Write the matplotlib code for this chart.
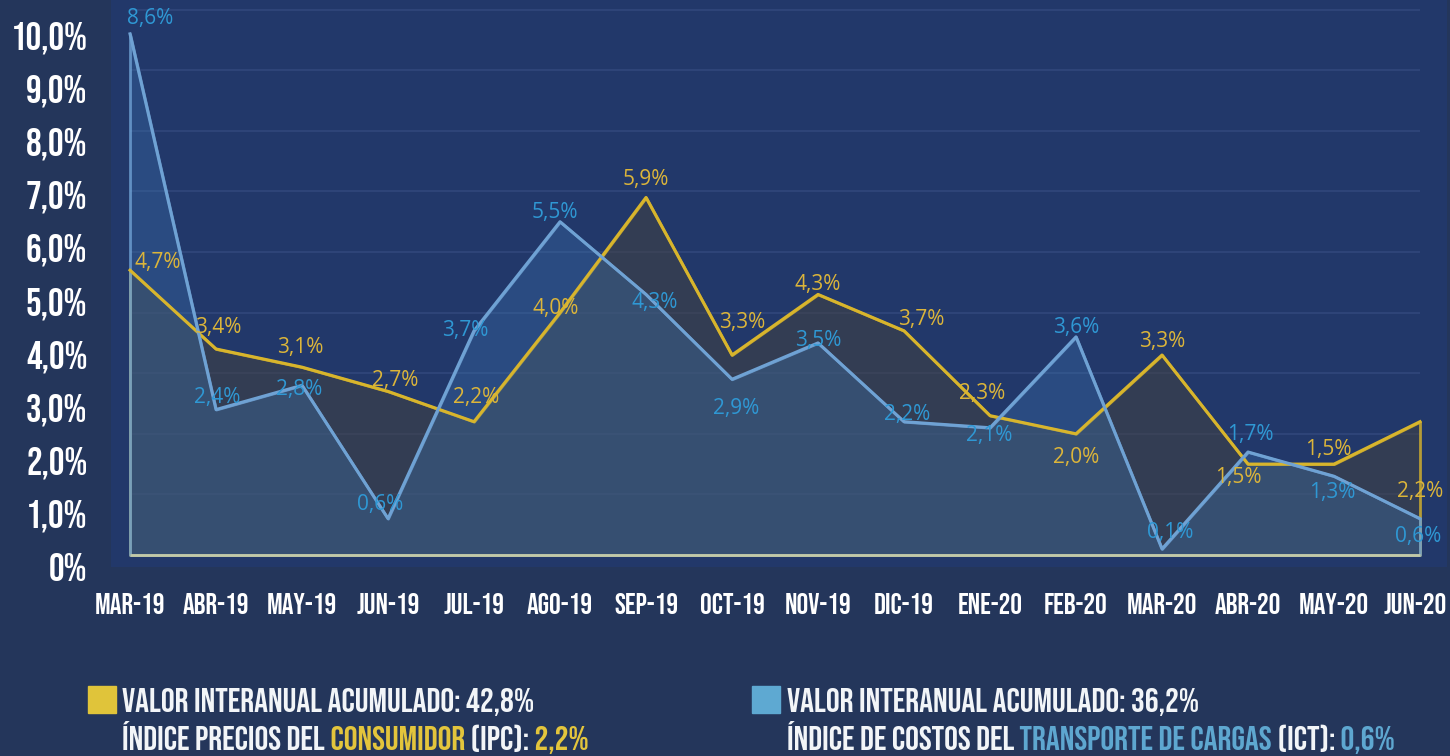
import numpy as np
import matplotlib.pyplot as plt
from matplotlib import font_manager
from matplotlib.patches import Rectangle
from matplotlib.transforms import ScaledTranslation

months = ["MAR-19", "ABR-19", "MAY-19", "JUN-19", "JUL-19", "AGO-19", "SEP-19", "OCT-19",
          "NOV-19", "DIC-19", "ENE-20", "FEB-20", "MAR-20", "ABR-20", "MAY-20", "JUN-20"]
ipc = [4.7, 3.4, 3.1, 2.7, 2.2, 4.0, 5.9, 3.3, 4.3, 3.7, 2.3, 2.0, 3.3, 1.5, 1.5, 2.2]
ict = [8.6, 2.4, 2.8, 0.6, 3.7, 5.5, 4.3, 2.9, 3.5, 2.2, 2.1, 3.6, 0.1, 1.7, 1.3, 0.6]
y_labels = ["0%", "1,0%", "2,0%", "3,0%", "4,0%", "5,0%", "6,0%", "7,0%", "8,0%", "9,0%", "10,0%"]

ipc_total = "42,8%"
ict_total = "36,2%"
ipc_last = "2,2%"
ict_last = "0,6%"

# label offsets in pixels (dx, dy), picked by eye
ipc_off = [(28, 8), (2, 21), (-2, 20), (7, 11), (2, 24), (-4, 4), (0, 18), (10, 33),
           (0, 10), (17, 11), (-8, 22), (0, -24), (0, 14), (-10, -13), (-6, 15), (0, -70)]
ict_off = [(20, 15), (1, 12), (-3, -4), (-8, 14), (-9, 0), (-5, 9), (9, -8), (4, -29),
           (0, 2), (3, 7), (-1, -8), (0, 9), (8, 16), (2, 17), (-2, -16), (-2, -18)]

# narrow font for the headline texts
installed = {f.name for f in font_manager.fontManager.ttflist}
narrow = "DejaVu Sans"
for cand in ["Bebas Neue", "Oswald", "Roboto Condensed", "Liberation Sans Narrow"]:
    if cand in installed:
        narrow = cand
        break
stretch = "condensed" if narrow == "DejaVu Sans" else "normal"
nfont = dict(family=narrow, fontweight="bold", fontstretch=stretch)

bg = "#24365b"
yellow = "#d8b52c"
blue = "#6fa2d4"
W, H = 1450, 756


def rect(l, t, r, b):
    return [l / W, 1 - b / H, (r - l) / W, (b - t) / H]


fig = plt.figure(figsize=(W / 100, H / 100), dpi=100, facecolor=bg)

# overlay in pixel coords for the legend
lax = fig.add_axes([0, 0, 1, 1], zorder=0)
lax.set_xlim(0, W)
lax.set_ylim(H, 0)
lax.axis("off")

ax = fig.add_axes(rect(111, 0, 1447, 567), zorder=1)
ax.set_facecolor("#22386a")
x = np.arange(len(months))
ax.set_xlim((111 - 130) / 86, (1447 - 130) / 86)
ax.set_ylim(-12 / 60.6, 555 / 60.6)
for s in ax.spines.values():
    s.set_visible(False)

ax.hlines(range(1, 10), 0, 15, color="#30467a", lw=1.3, zorder=1)
ax.fill_between(x, 0, ipc, facecolor=(66 / 255, 66 / 255, 66 / 255, 0.56),
                edgecolor=(0.85, 0.71, 0.17, 0.8), lw=2, zorder=2)
ax.fill_between(x, 0, ict, facecolor=(61 / 255, 118 / 255, 178 / 255, 0.32),
                edgecolor=(0.44, 0.64, 0.84, 0.8), lw=2, zorder=3)
ax.plot(x, ipc, color=yellow, lw=2.2, zorder=4)
ax.plot(x, ict, color=blue, lw=2.2, zorder=5)
ax.hlines(0, 0, 15, color="#c3c9a6", lw=2, zorder=6)

for xi, v, (dx, dy) in zip(x, ipc, ipc_off):
    ax.annotate(f"{v:.1f}".replace(".", ",") + "%", (xi, v), xytext=(dx, dy),
                textcoords="offset pixels", ha="center", va="center",
                color="#dcb53a", fontsize=15, family="Open Sans", zorder=7)
for xi, v, (dx, dy) in zip(x, ict, ict_off):
    ax.annotate(f"{v:.1f}".replace(".", ",") + "%", (xi, v), xytext=(dx, dy),
                textcoords="offset pixels", ha="center", va="center",
                color="#2f98d4", fontsize=15, family="Open Sans", zorder=7)

ax.set_xticks(x, months, color="white", fontsize=21, **nfont)
ax.tick_params(axis="x", length=0, pad=19)
ax.set_yticks([])
# keep the last month inside the frame
last = ax.get_xticklabels()[-1]
last.set_transform(last.get_transform() + ScaledTranslation(-0.05, 0, fig.dpi_scale_trans))

# y labels on their own scale
ax2 = fig.add_axes(rect(111, 0, 1447, 567), zorder=2)
ax2.patch.set_visible(False)
for s in ax2.spines.values():
    s.set_visible(False)
ax2.set_ylim(0, 567 / 53.2)
ax2.set_yticks(range(len(y_labels)), y_labels, color="white", fontsize=28, **nfont)
ax2.set_xticks([])
ax2.tick_params(axis="y", length=0, pad=17)

# legend
lax.add_patch(Rectangle((88, 686), 28, 27, color="#e0c43a"))
lax.add_patch(Rectangle((752, 686), 28, 27, color="#5ea9d2"))
renderer = fig.canvas.get_renderer()


def rainbow(x0, y0, parts, size):
    xc = x0
    for txt, col in parts:
        t = lax.text(xc, y0, txt, color=col, fontsize=size, va="baseline", ha="left", **nfont)
        bb = t.get_window_extent(renderer)
        xc = lax.transData.inverted().transform((bb.x1, bb.y0))[0]


white = "#f2f5f8"
rainbow(122, 712, [("VALOR INTERANUAL ACUMULADO: " + ipc_total, white)], 24.8)
rainbow(122, 750, [("ÍNDICE PRECIOS DEL", white), (" CONSUMIDOR", "#e3c53c"),
                   (" (IPC):", white), (" " + ipc_last, "#e3c53c")], 24.8)
rainbow(787, 712, [("VALOR INTERANUAL ACUMULADO: " + ict_total, white)], 24.8)
rainbow(787, 750, [("ÍNDICE DE COSTOS DEL", white), (" TRANSPORTE DE CARGAS", "#5ea7d0"),
                   (" (ICT):", white), (" " + ict_last, "#5ea7d0")], 24.8)

fig.savefig("out.png", dpi=100, facecolor=bg)
